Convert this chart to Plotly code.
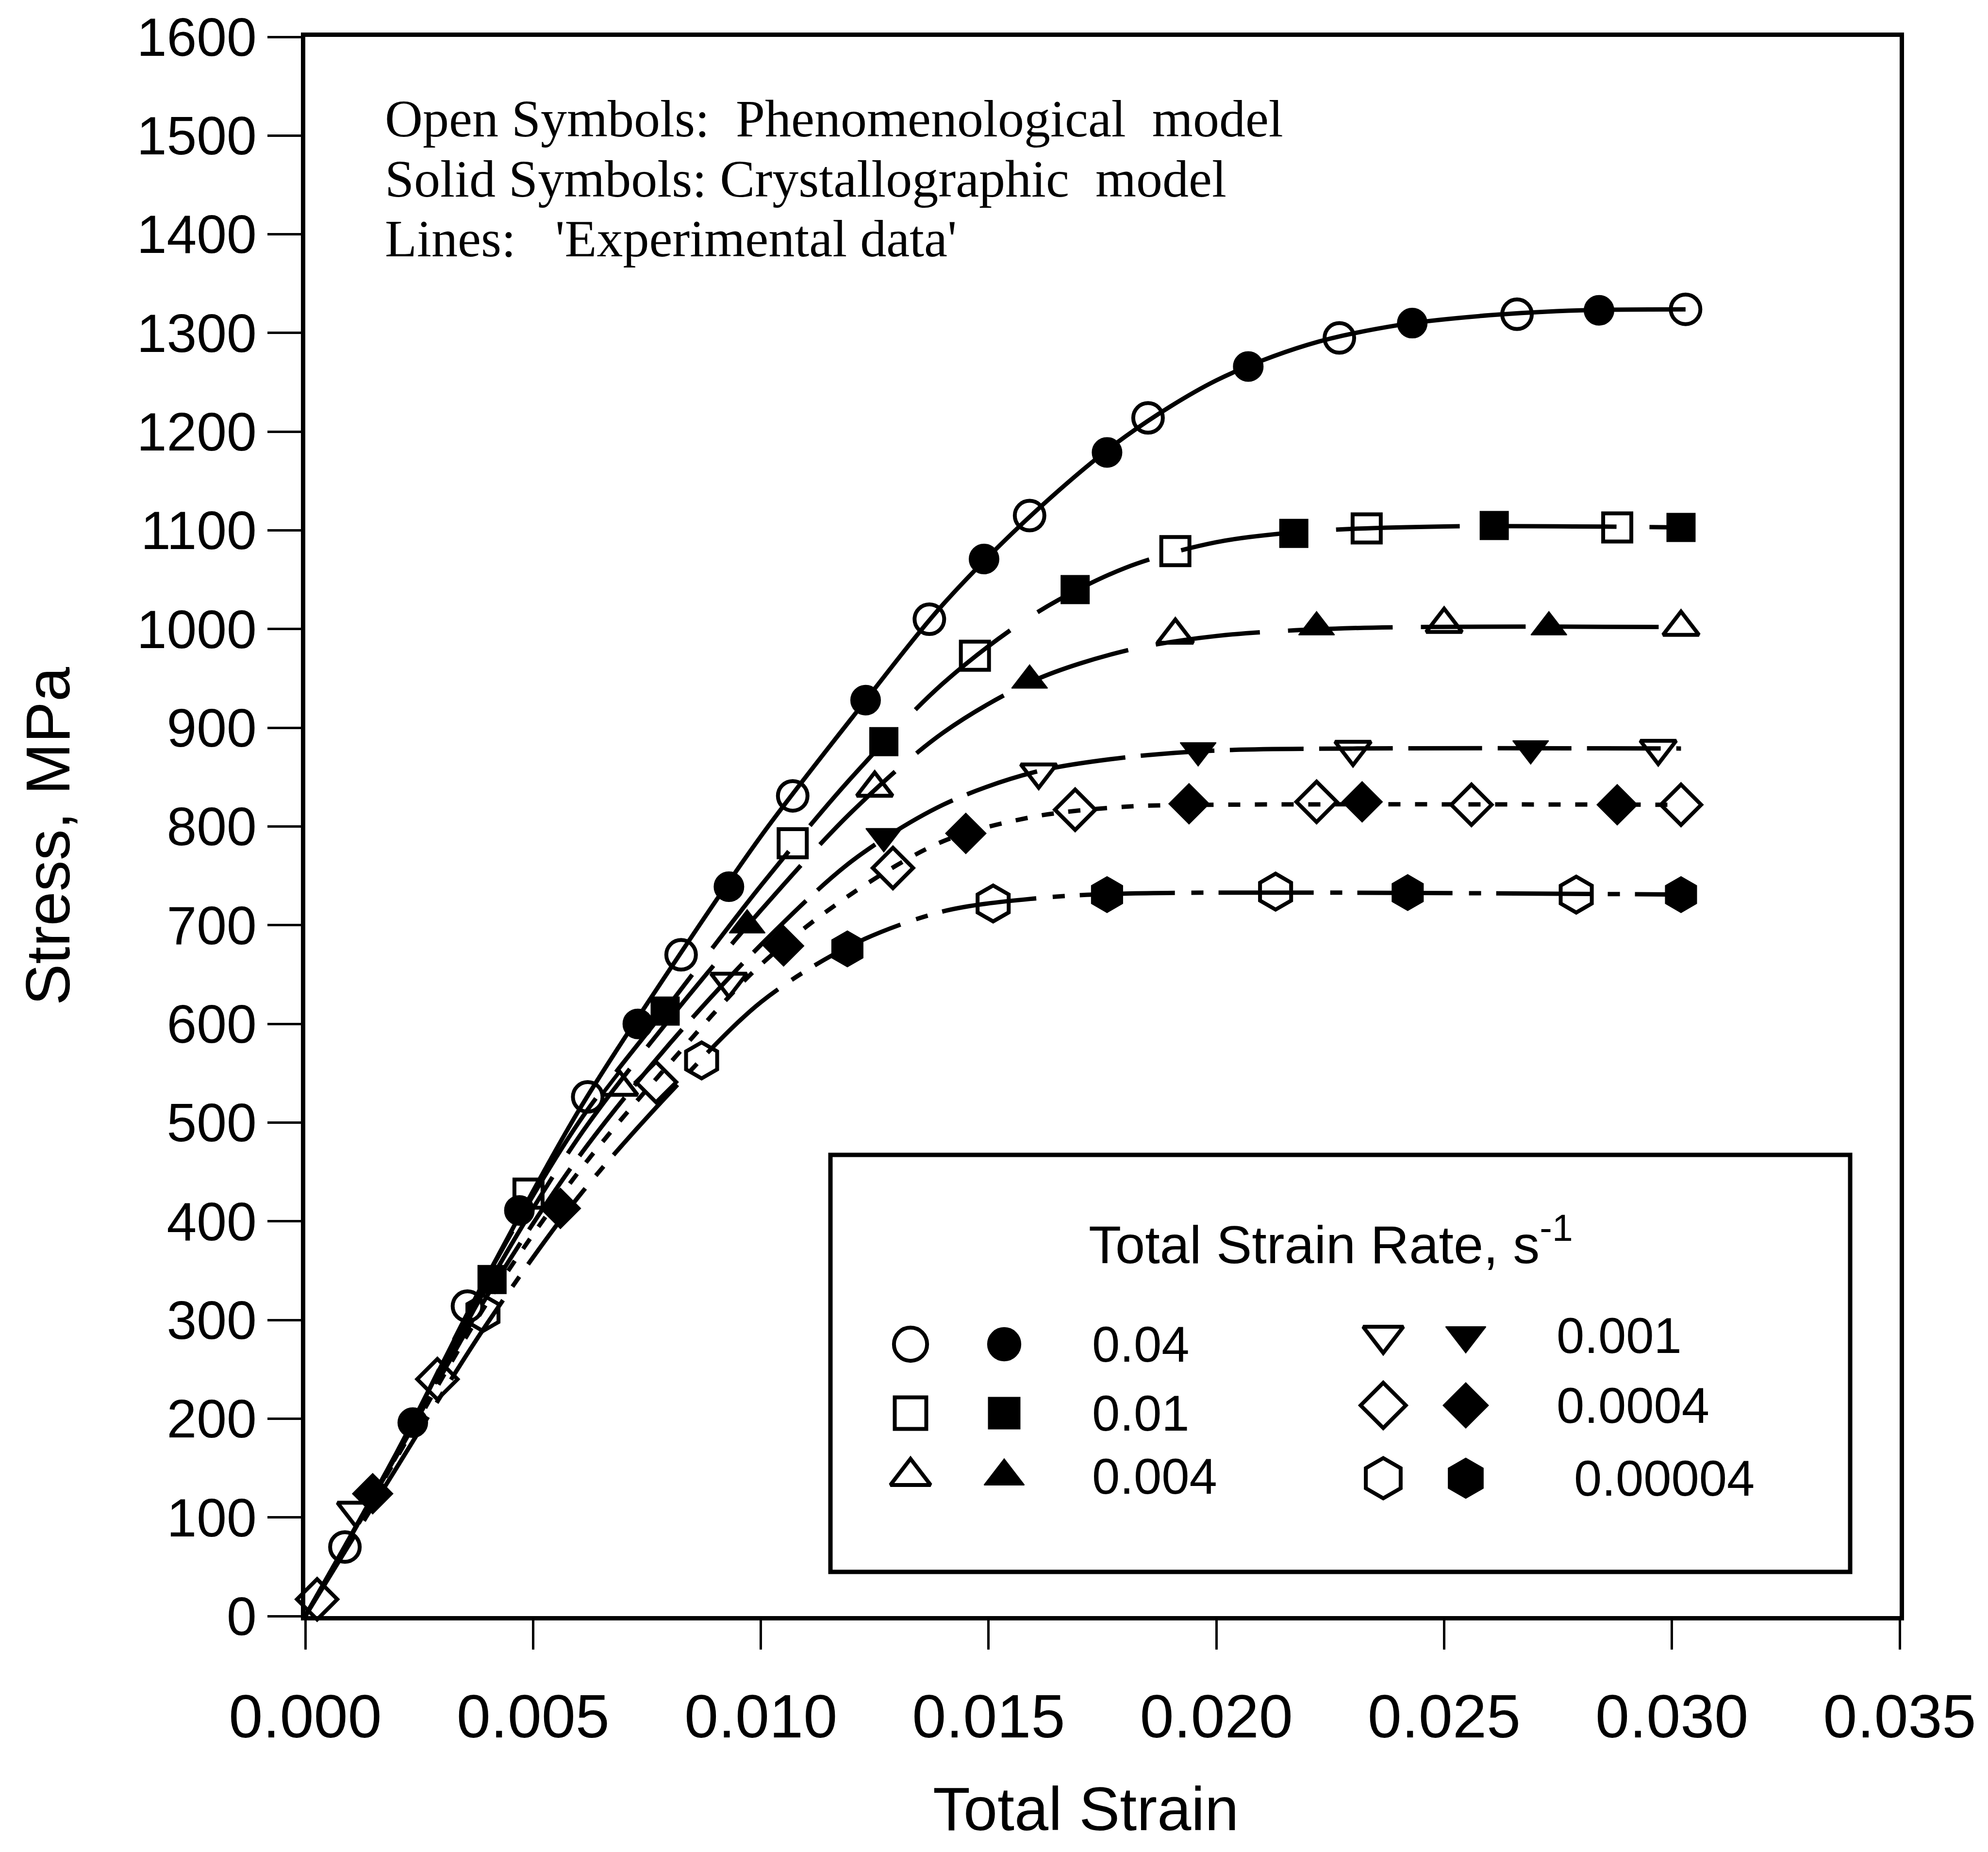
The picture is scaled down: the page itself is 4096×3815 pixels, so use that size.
import plotly.graph_objects as go

# ---------------- data ----------------
rates = ["0.04", "0.01", "0.004", "0.001", "0.0004", "0.00004"]

# experimental curves (lines)
exp_strain_0p04 = [0, 0.002, 0.004, 0.006, 0.008, 0.010, 0.012, 0.014, 0.016, 0.018, 0.020, 0.022, 0.024, 0.026, 0.028, 0.0303]
exp_stress_0p04 = [0, 165, 345, 512, 655, 790, 910, 1025, 1118, 1195, 1252, 1288, 1308, 1318, 1323, 1324]
exp_strain_0p01 = [0, 0.002, 0.004, 0.006, 0.008, 0.010, 0.012, 0.014, 0.016, 0.018, 0.020, 0.022, 0.025, 0.0302]
exp_stress_0p01 = [0, 165, 345, 500, 620, 740, 850, 945, 1015, 1062, 1088, 1099, 1104, 1103]
exp_strain_0p004 = [0, 0.002, 0.004, 0.006, 0.008, 0.010, 0.012, 0.014, 0.016, 0.018, 0.020, 0.023, 0.0302]
exp_stress_0p004 = [0, 163, 335, 485, 605, 715, 815, 895, 948, 978, 993, 1001, 1002]
exp_strain_0p001 = [0, 0.002, 0.004, 0.006, 0.008, 0.010, 0.012, 0.014, 0.016, 0.018, 0.020, 0.023, 0.0302]
exp_stress_0p001 = [0, 162, 325, 465, 580, 680, 765, 822, 855, 870, 877, 879, 879]
exp_strain_0p0004 = [0, 0.002, 0.004, 0.006, 0.008, 0.010, 0.012, 0.014, 0.016, 0.018, 0.020, 0.0302]
exp_stress_0p0004 = [0, 160, 318, 450, 560, 660, 732, 785, 810, 820, 822, 822]
exp_strain_0p00004 = [0, 0.002, 0.004, 0.006, 0.008, 0.010, 0.012, 0.014, 0.016, 0.018, 0.0302]
exp_stress_0p00004 = [0, 150, 297, 425, 530, 622, 680, 714, 727, 732, 731]

# phenomenological model (open symbols)
phen_strain_0p04 = [0.00087, 0.00356, 0.0062, 0.00825, 0.0107, 0.0137, 0.0159, 0.0185, 0.0227, 0.0266, 0.0303]
phen_stress_0p04 = [70, 314, 526, 670, 831, 1010, 1115, 1214, 1295, 1319, 1324]
phen_strain_0p01 = [0.0049, 0.0107, 0.0147, 0.0191, 0.0233, 0.0288]
phen_stress_0p01 = [428, 783, 973, 1079, 1102, 1103]
phen_strain_0p004 = [0.0069, 0.0125, 0.0191, 0.0250, 0.0302]
phen_stress_0p004 = [536, 839, 994, 1005, 1002]
phen_strain_0p001 = [0.0011, 0.0093, 0.0161, 0.0230, 0.0297]
phen_stress_0p001 = [107, 643, 855, 878, 879]
phen_strain_0p0004 = [0.00026, 0.0029, 0.0077, 0.0129, 0.0169, 0.0222, 0.0256, 0.0302]
phen_stress_0p0004 = [17, 240, 541, 758, 817, 825, 822, 822]
phen_strain_0p00004 = [0.0039, 0.0087, 0.0151, 0.0213, 0.0279]
phen_stress_0p00004 = [307, 563, 722, 734, 731]

# crystallographic model (solid symbols)
cryst_strain_0p04 = [0.00236, 0.0047, 0.0073, 0.0093, 0.0123, 0.0149, 0.0176, 0.0207, 0.0243, 0.0284]
cryst_stress_0p04 = [196, 411, 600, 739, 928, 1071, 1179, 1266, 1310, 1323]
cryst_strain_0p01 = [0.0041, 0.0079, 0.0127, 0.0169, 0.0217, 0.0261, 0.0302]
cryst_stress_0p01 = [341, 613, 886, 1040, 1097, 1105, 1103]
cryst_strain_0p004 = [0.0097, 0.0159, 0.0222, 0.0273]
cryst_stress_0p004 = [700, 948, 1002, 1002]
cryst_strain_0p001 = [0.0127, 0.0196, 0.0269]
cryst_stress_0p001 = [790, 877, 879]
cryst_strain_0p0004 = [0.00148, 0.0056, 0.0105, 0.0145, 0.0194, 0.0232, 0.0288]
cryst_stress_0p0004 = [124, 413, 679, 793, 823, 825, 822]
cryst_strain_0p00004 = [0.0119, 0.0176, 0.0242, 0.0302]
cryst_stress_0p00004 = [676, 731, 733, 731]

x_tick_vals = [0.000, 0.005, 0.010, 0.015, 0.020, 0.025, 0.030, 0.035]
y_tick_vals = list(range(0, 1601, 100))

# ---------------- styling ----------------
W, H = 4096, 3815
ML, MR, MT, MB = 629, 182, 76, 486
PW, PH = W - ML - MR, H - MT - MB
SANS = "Arial, 'Liberation Sans', sans-serif"
SERIF = "'Times New Roman', 'Liberation Serif', serif"


def paper_x(px):
    return (px - ML) / PW


def paper_y(py):
    return (H - MB - py) / PH


series = [
    dict(exp=(exp_strain_0p04, exp_stress_0p04), phen=(phen_strain_0p04, phen_stress_0p04),
         cryst=(cryst_strain_0p04, cryst_stress_0p04), sym="circle", size=61, dash="solid"),
    dict(exp=(exp_strain_0p01, exp_stress_0p01), phen=(phen_strain_0p01, phen_stress_0p01),
         cryst=(cryst_strain_0p01, cryst_stress_0p01), sym="square", size=58, dash="255px,68px"),
    dict(exp=(exp_strain_0p004, exp_stress_0p004), phen=(phen_strain_0p004, phen_stress_0p004),
         cryst=(cryst_strain_0p004, cryst_stress_0p004), sym="triangle-up", size=64, dash="216px,58px"),
    dict(exp=(exp_strain_0p001, exp_stress_0p001), phen=(phen_strain_0p001, phen_stress_0p001),
         cryst=(cryst_strain_0p001, cryst_stress_0p001), sym="triangle-down", size=64, dash="152px,32px"),
    dict(exp=(exp_strain_0p0004, exp_stress_0p0004), phen=(phen_strain_0p0004, phen_stress_0p0004),
         cryst=(cryst_strain_0p0004, cryst_stress_0p0004), sym="diamond", size=64, dash="25px,30px"),
    dict(exp=(exp_strain_0p00004, exp_stress_0p00004), phen=(phen_strain_0p00004, phen_stress_0p00004),
         cryst=(cryst_strain_0p00004, cryst_stress_0p00004), sym="hexagon", size=74, dash="196px,34px,25px,31px"),
]

LINE_W = 9
OPEN_W = 8
KEY_SCALE = 1.12

fig = go.Figure()

# experimental lines
for s in series:
    fig.add_trace(go.Scatter(
        x=s["exp"][0], y=s["exp"][1], mode="lines",
        line=dict(color="black", width=LINE_W, dash=s["dash"], shape="spline", smoothing=0.9),
        showlegend=False, hoverinfo="skip"))

# model symbols
for s in series:
    fig.add_trace(go.Scatter(
        x=s["phen"][0], y=s["phen"][1], mode="markers", cliponaxis=False,
        marker=dict(symbol=s["sym"] + "-open", size=s["size"], color="black",
                    line=dict(color="black", width=OPEN_W)),
        showlegend=False))
    fig.add_trace(go.Scatter(
        x=s["cryst"][0], y=s["cryst"][1], mode="markers", cliponaxis=False,
        marker=dict(symbol=s["sym"], size=s["size"], color="black",
                    line=dict(color="black", width=2)),
        showlegend=False))

# ---------------- key box ----------------
box_l, box_r, box_t, box_b = 1711, 3812, 2379, 3238
fig.add_shape(type="rect", xref="paper", yref="paper",
              x0=paper_x(box_l), x1=paper_x(box_r), y0=paper_y(box_b), y1=paper_y(box_t),
              line=dict(color="black", width=9), fillcolor="white", layer="below")

key_cols = [dict(open_x=1876, solid_x=2069, text_x=2248, rows=[2769, 2911, 3041]),
            dict(open_x=2850, solid_x=3020, text_x=3205, rows=[2751, 2895, 3045])]
for i, (s, rate) in enumerate(zip(series, rates)):
    col = key_cols[i // 3]
    ry = col["rows"][i % 3]
    ksize = s["size"] * KEY_SCALE
    fig.add_trace(go.Scatter(
        x=[paper_x(col["open_x"])], y=[paper_y(ry)], xaxis="x2", yaxis="y2",
        mode="markers", cliponaxis=False,
        marker=dict(symbol=s["sym"] + "-open", size=ksize, color="black",
                    line=dict(color="black", width=OPEN_W)),
        showlegend=False, hoverinfo="skip"))
    fig.add_trace(go.Scatter(
        x=[paper_x(col["solid_x"])], y=[paper_y(ry)], xaxis="x2", yaxis="y2",
        mode="markers", cliponaxis=False,
        marker=dict(symbol=s["sym"], size=ksize, color="black",
                    line=dict(color="black", width=2)),
        showlegend=False, hoverinfo="skip"))
    tx = col["text_x"] + (36 if rate == "0.00004" else 0)
    fig.add_annotation(x=paper_x(tx), y=paper_y(ry), xref="paper", yref="paper",
                       text=rate, showarrow=False, xanchor="left", yanchor="middle",
                       font=dict(family=SANS, size=103, color="black"))

fig.add_annotation(x=paper_x(2241), y=paper_y(2555), xref="paper", yref="paper",
                   text="Total Strain Rate, s<sup>-1</sup>", showarrow=False,
                   xanchor="left", yanchor="middle",
                   font=dict(family=SANS, size=110, color="black"))

# ---------------- notes in the upper left ----------------
notes = ["Open Symbols:\u00a0 Phenomenological\u00a0 model",
         "Solid Symbols: Crystallographic\u00a0 model",
         "Lines:\u00a0\u00a0 'Experimental data'"]
for txt, cy in zip(notes, [244, 368, 491]):
    fig.add_annotation(x=paper_x(791), y=paper_y(cy), xref="paper", yref="paper",
                       text=txt, showarrow=False, xanchor="left", yanchor="middle",
                       font=dict(family=SERIF, size=108, color="black"))

# ---------------- axis titles ----------------
fig.add_annotation(x=paper_x(98), y=paper_y(1722), xref="paper", yref="paper",
                   text="Stress, MPa", textangle=-90, showarrow=False,
                   xanchor="center", yanchor="middle",
                   font=dict(family=SANS, size=128, color="black"))
fig.add_annotation(x=paper_x(2237), y=paper_y(3726), xref="paper", yref="paper",
                   text="Total Strain", showarrow=False,
                   xanchor="center", yanchor="middle",
                   font=dict(family=SANS, size=126, color="black"))

axis_common = dict(showgrid=False, zeroline=False, showline=True, linecolor="black",
                   linewidth=9, mirror=True, ticks="outside", tickcolor="black",
                   tickwidth=5)

fig.update_layout(
    width=W, height=H,
    margin=dict(l=ML, r=MR, t=MT, b=MB, pad=0),
    paper_bgcolor="white", plot_bgcolor="white",
    showlegend=False,
    xaxis=dict(range=[0, 0.035], tickvals=x_tick_vals, tickformat=".3f", ticklen=60,
               ticklabelstandoff=30,
               tickfont=dict(family=SANS, size=126, color="black"), **axis_common),
    yaxis=dict(range=[0, 1600], tickvals=y_tick_vals, ticklen=69,
               tickfont=dict(family=SANS, size=111, color="black"), **axis_common),
    xaxis2=dict(overlaying="x", range=[0, 1], visible=False),
    yaxis2=dict(overlaying="y", range=[0, 1], visible=False),
)

fig.write_html("out.html")
